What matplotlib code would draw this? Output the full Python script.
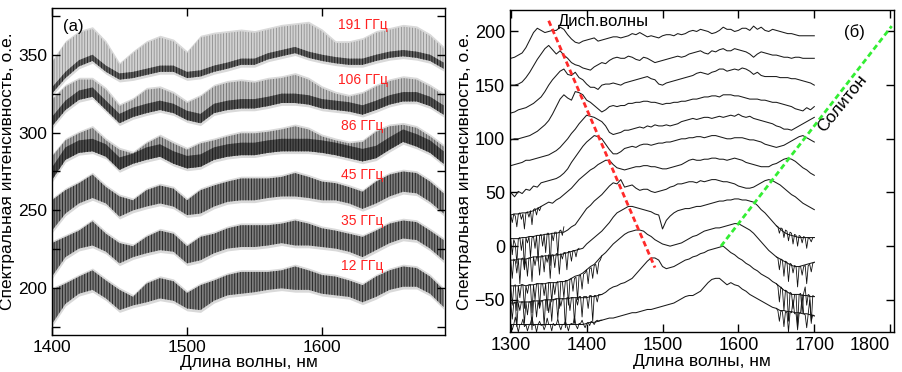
# plot.py
# Two-panel figure: (a) interference-fringed spectra at several repetition rates,
# (б) spectral evolution with dispersive-wave and soliton tracks.

import numpy as np
import matplotlib.pyplot as plt

plt.rcParams['font.family'] = ['Liberation Sans', 'DejaVu Sans']
plt.rcParams['hatch.linewidth'] = 0.6

# ---------------- panel (a) data: band envelopes every 10 nm ----------------
wl_a = np.arange(1400, 1700, 10)

rate_labels = ['191 ГГц', '106 ГГц', '86 ГГц', '45 ГГц', '35 ГГц', '12 ГГц']
label_y = [369, 334, 304, 273, 243, 214]

lo_191 = [325, 335, 342.5, 346, 339, 334, 335, 337, 339, 339, 335, 336, 339, 341, 343.5,
          343.5, 347, 349, 351, 348, 346, 344.5, 343.5, 343.5, 346, 348, 349, 348, 346, 341]
hi_191 = [345, 357.5, 364, 366.5, 357.5, 343.5, 351, 357.5, 361, 358.5, 351, 361, 363, 364, 365,
          364, 366, 368, 369, 370, 365, 357.5, 357.5, 359.5, 364, 366, 368, 367, 362, 354]
lo_106 = [304, 314.5, 321, 323, 314.5, 306, 310, 312.5, 314.5, 312.5, 308, 306, 312.5, 314.5, 315.5,
          315.5, 317, 319, 319, 318, 315.5, 314.5, 313.5, 311.5, 314.5, 318, 320, 320, 317, 311.5]
hi_106 = [321, 329.5, 334, 334, 327.5, 317, 321, 327.5, 328.5, 325, 319, 323, 329.5, 332, 333,
          332, 334, 335, 337, 334, 328.5, 325, 323, 325, 329.5, 333, 335, 334, 329.5, 324]
lo_86 = [269.5, 282.5, 287, 288, 284.5, 276, 280, 282.5, 284.5, 280, 277, 278, 282.5, 284.5, 285.5,
         285.5, 287, 288, 288, 288, 287, 285.5, 283.5, 281.5, 283.5, 289, 294, 291, 287, 280]
hi_86 = [284.5, 295, 299.5, 303, 295, 289, 286.5, 293, 297.5, 293, 289, 293, 295, 297.5, 299.5,
         299.5, 300.5, 302, 304, 302, 297.5, 295, 293, 294, 300.5, 304, 305, 303, 297.5, 291]
lo_45 = [237, 248, 254.5, 258, 254.5, 246, 250, 252.5, 254.5, 252.5, 247, 248, 252.5, 255.5, 256.5,
         256.5, 258, 259, 259, 258, 256.5, 256.5, 254.5, 251, 254.5, 259, 262, 261, 255.5, 248]
hi_45 = [256.5, 263, 267.5, 273, 265, 259, 256.5, 263, 266, 264, 256.5, 263, 266, 268.5, 270.5,
         270.5, 270.5, 271.5, 274, 271.5, 268.5, 267.5, 265, 262, 268.5, 273, 275, 274, 268.5, 261]
lo_35 = [207.5, 220, 225.5, 227.5, 223.5, 216, 220, 222.5, 224.5, 223.5, 216, 218, 222.5, 225.5, 226.5,
         226.5, 227.5, 229, 227.5, 227.5, 226.5, 225.5, 223.5, 220, 224.5, 229, 232, 231, 225.5, 218]
hi_35 = [229, 233, 237, 243, 235, 229, 227, 233, 237, 235, 227, 233, 235, 238.5, 240.5,
         240.5, 240.5, 241.5, 243.5, 241.5, 238.5, 237, 235, 233, 237, 241.5, 243.5, 242.5, 237, 231]
lo_12 = [177, 190, 196.5, 199, 193.5, 186, 189, 191, 193.5, 192, 187, 186, 192, 195.5, 196.5,
         197.5, 199, 200, 199, 199, 196.5, 195.5, 194.5, 191, 194.5, 199, 201, 201, 196.5, 188]
hi_12 = [199, 203, 207.5, 211.5, 205, 199, 194.5, 203, 206.5, 204.5, 197, 202, 205, 208.5, 210.5,
         210.5, 210.5, 211.5, 214, 211.5, 208.5, 207.5, 205, 202, 207.5, 211.5, 214, 213, 207.5, 199]

# ---------------- panel (б) data: spectra every 5 nm ----------------
wl_b = np.arange(1300, 1705, 5)

spec_1 = [175, 176, 178, 180, 185, 192, 199, 203, 201, 199,
          200, 201, 201, 204, 202, 197, 193, 190, 189, 191,
          192, 193, 194, 191, 192, 193, 194, 195, 195, 194,
          195, 196, 198, 197, 199, 197, 195, 196, 195, 194,
          196, 197, 197, 196, 198, 197, 198, 200, 201, 200,
          202, 201, 200, 198, 199, 201, 204, 202, 202, 200,
          201, 203, 203, 201, 205, 202, 204, 201, 200, 202,
          201, 200, 199, 198, 198, 197, 196, 196, 196, 196, 196]
spec_2 = [150, 150, 151, 153, 157, 162, 168, 174, 179, 184,
          187, 183, 179, 182, 178, 175, 171, 169, 168, 166,
          165, 164, 167, 169, 171, 170, 173, 175, 176, 175,
          175, 177, 176, 174, 173, 176, 175, 173, 171, 172,
          173, 174, 175, 176, 177, 176, 177, 179, 180, 181,
          182, 180, 179, 182, 181, 183, 184, 182, 182, 184,
          183, 182, 181, 179, 176, 179, 181, 180, 179, 178,
          178, 177, 176, 176, 175, 176, 176, 175, 175, 175, 175]
spec_3 = [124, 125, 127, 128, 129, 131, 133, 136, 139, 144,
          150, 155, 159, 163, 165, 160, 159, 162, 157, 155,
          151, 148, 148, 146, 150, 151, 151, 152, 151, 150,
          152, 153, 154, 155, 156, 157, 158, 156, 155, 151,
          150, 152, 153, 154, 155, 156, 157, 158, 159, 161,
          162, 161, 160, 162, 163, 165, 165, 163, 164, 165,
          164, 166, 165, 163, 160, 162, 159, 158, 158, 158,
          158, 157, 157, 157, 156, 156, 155, 154, 153, 152, 150]
spec_4 = [99, 100, 100, 101, 102, 103, 105, 107, 110, 113,
          117, 123, 130, 137, 141, 138, 136, 144, 143, 141,
          136, 134, 131, 128, 125, 127, 130, 131, 130, 131,
          131, 133, 133, 134, 134, 135, 135, 134, 134, 133,
          132, 133, 133, 134, 134, 135, 135, 136, 137, 137,
          138, 139, 139, 140, 140, 139, 141, 141, 141, 140,
          140, 139, 138, 137, 137, 137, 136, 136, 135, 134,
          134, 133, 132, 131, 130, 128, 127, 126, 129, 127, 130]
spec_5 = [75, 76, 77, 78, 80, 80, 81, 82, 83, 84,
          85, 87, 89, 92, 96, 100, 105, 109, 114, 118,
          122, 121, 120, 118, 116, 112, 106, 104, 105, 106,
          108, 108, 109, 110, 111, 110, 112, 111, 113, 112,
          112, 113, 112, 113, 114, 116, 117, 118, 119, 118,
          119, 120, 120, 119, 120, 121, 120, 121, 122, 121,
          123, 121, 120, 121, 119, 118, 117, 116, 115, 114,
          112, 111, 109, 109, 108, 110, 112, 114, 116, 118, 120]
spec_6 = [50, 46, 51, 49, 53, 52, 56, 55, 59, 60,
          61, 62, 63, 65, 68, 72, 78, 83, 88, 93,
          97, 100, 103, 102, 100, 95, 90, 86, 86, 88,
          91, 92, 93, 92, 94, 95, 95, 94, 95, 96,
          96, 97, 97, 98, 99, 100, 100, 101, 101, 102,
          102, 101, 102, 103, 103, 102, 101, 100, 100, 101,
          101, 101, 100, 99, 99, 98, 97, 95, 94, 93,
          92, 93, 94, 96, 98, 100, 102, 103, 101, 99, 97]
spec_7 = [29, 30, 30, 31, 31, 32, 33, 35, 37, 39,
          41, 40, 43, 45, 48, 51, 54, 58, 62, 65,
          68, 71, 73, 76, 78, 80, 80, 76, 73, 72,
          71, 72, 73, 74, 74, 75, 75, 74, 74, 73,
          72, 72, 73, 74, 75, 76, 78, 80, 81, 80,
          80, 81, 81, 82, 82, 81, 81, 80, 81, 82,
          81, 80, 78, 77, 76, 75, 74, 74, 74, 76,
          77, 79, 81, 82, 81, 79, 76, 73, 71, 68, 66]
spec_8 = [7, 7, 7, 8, 8, 9, 9, 10, 10, 11,
          11, 12, 12, 13, 13, 15, 18, 20, 25, 30,
          35, 38, 42, 45, 48, 52, 56, 59, 58, 62,
          55, 56, 57, 54, 52, 53, 53, 51, 50, 51,
          52, 53, 55, 56, 58, 58, 59, 60, 60, 59,
          61, 60, 61, 62, 62, 61, 60, 60, 59, 58,
          56, 55, 54, 54, 55, 57, 59, 61, 62, 61,
          59, 57, 54, 51, 48, 46, 43, 40, 38, 36, 34]
spec_9 = [-13, -13, -12, -12, -12, -11, -10, -10, -10, -9,
          -9, -9, -8, -8, -7, -6, -5, -4, -3, -2,
          2, 5, 8, 11, 14, 18, 22, 27, 31, 33,
          35, 37, 37, 36, 35, 34, 33, 32, 30, 29,
          16, 24, 28, 31, 33, 34, 35, 35, 36, 37,
          37, 38, 39, 40, 41, 42, 42, 43, 43, 44,
          44, 43, 43, 42, 41, 38, 34, 31, 27, 23,
          19, 16, 13, 11, 10, 9, 8, 8, 8, 8, 8]
spec_10 = [-37, -37, -37, -36, -37, -36, -36, -35, -35, -35,
           -34, -34, -34, -33, -33, -32, -30, -28, -27, -25,
           -22, -19, -17, -13, -9, -6, -2, 2, 5, 8,
           11, 13, 14, 15, 15, 14, 11, 9, 6, 4,
           2, 1, 0, 1, 2, 3, 5, 7, 9, 10,
           12, 14, 15, 16, 17, 17, 18, 19, 20, 21,
           21, 19, 17, 15, 12, 8, 4, 0, -4, -7,
           -10, -12, -14, -16, -18, -19, -19, -18, -17, -16, -15]
spec_11 = [-53, -53, -52, -52, -52, -52, -51, -51, -51, -50,
           -50, -50, -49, -49, -49, -49, -48, -48, -48, -48,
           -48, -47, -47, -46, -45, -43, -40, -38, -37, -35,
           -34, -32, -30, -26, -22, -18, -14, -11, -11, -13,
           -19, -21, -20, -19, -17, -15, -13, -12, -10, -9,
           -7, -6, -4, -3, -2, -1, 0, -3, -6, -8,
           -11, -13, -16, -18, -21, -23, -26, -28, -30, -33,
           -35, -38, -41, -43, -45, -45, -45, -46, -46, -47, -47]
spec_12 = [-73, -73, -73, -73, -73, -73, -73, -73, -73, -73,
           -73, -73, -73, -73, -73, -73, -73, -73, -73, -73,
           -72, -71, -71, -70, -69, -68, -67, -67, -66, -65,
           -64, -63, -62, -62, -61, -60, -59, -59, -58, -57,
           -56, -55, -54, -53, -51, -49, -47, -46, -46, -44,
           -42, -38, -34, -31, -30, -30, -33, -36, -34, -36,
           -37, -40, -42, -45, -47, -49, -51, -53, -55, -57,
           -58, -60, -60, -61, -61, -62, -62, -63, -63, -64, -65]

# noisy stretches read at 2 nm steps (short-wavelength side)
noise_wl_7 = np.arange(1300, 1342, 2)
noise_7 = [29, 22, 30, 28, 18, 30, 31, 25, 30, 16, 31, 32, 27, 33, 20, 34, 35, 29, 36, 33, 37]
noise_wl_8 = np.arange(1300, 1372, 2)
noise_8 = [7, -8, 6, 2, -16, 7, 8, -4, 7, -20, 8, 3, 9, -10, 8, 9, -2, 10, -14, 10,
           11, 0, 11, -6, 12, 12, -18, 12, 5, 13, 13, -9, 14, 15, 10, 18]
noise_wl_9 = np.arange(1300, 1392, 2)
noise_9 = [-13, -30, -12, -14, -25, -12, -35, -12, -11, -22,
           -12, -28, -11, -11, -33, -10, -18, -10, -10, -27,
           -9, -9, -24, -9, -15, -8, -30, -8, -8, -20,
           -7, -7, -26, -7, -12, -6, -6, -22, -5, -5,
           -14, -4, -4, -10, -3, -2]
noise_wl_left = np.arange(1300, 1422, 2)
noise_10 = [-37, -55, -37, -36, -60, -37, -48, -36, -36, -58,
            -37, -44, -36, -36, -62, -36, -50, -35, -35, -57,
            -35, -35, -46, -35, -60, -34, -34, -52, -34, -45,
            -34, -33, -58, -33, -33, -48, -32, -32, -55, -31,
            -30, -42, -30, -29, -50, -28, -27, -40, -26, -25,
            -22, -35, -21, -20, -30, -18, -17, -26, -15, -13, -9]
noise_11 = [-53, -68, -53, -52, -75, -53, -60, -52, -52, -72,
            -52, -64, -52, -52, -78, -51, -51, -66, -51, -58,
            -51, -51, -74, -50, -50, -62, -50, -70, -50, -50,
            -49, -68, -49, -56, -49, -49, -76, -48, -48, -60,
            -48, -48, -72, -48, -55, -47, -47, -66, -47, -47,
            -47, -58, -46, -46, -70, -46, -46, -52, -45, -45, -45]
noise_12 = [-73, -78, -73, -66, -74, -80, -73, -73, -68, -75,
            -73, -79, -74, -72, -66, -74, -73, -80, -73, -70,
            -74, -73, -78, -74, -67, -73, -73, -79, -72, -74,
            -73, -68, -74, -78, -73, -73, -70, -74, -79, -73,
            -72, -73, -66, -74, -77, -72, -72, -69, -73, -76,
            -72, -71, -74, -70, -71, -73, -70, -69, -70, -69, -69]

# noisy stretches on the long-wavelength side
noise_wl_right = np.arange(1650, 1702, 2)
noise_9r = [19, 18, 12, 17, 16, 8, 15, 14, 5, 13, 12, 2, 11, 10, 0, 10, 9, 3, 9, 8, -2, 8, 7, 4, 8, 8]
noise_10r = [-10, -11, -22, -12, -13, -28, -14, -15, -33, -16, -17, -25, -18, -19, -38, -19,
             -19, -27, -19, -18, -35, -18, -17, -24, -16, -15]
noise_11r = [-35, -37, -52, -38, -40, -60, -41, -42, -70, -43, -44, -58, -45, -45, -75, -45,
             -44, -62, -44, -38, -55, -45, -46, -72, -46, -47]
noise_12r = [-58, -60, -70, -60, -61, -75, -61, -62, -80, -62, -62, -50, -63, -63, -78, -63,
             -62, -45, -63, -64, -76, -63, -50, -70, -64, -65]

# guide lines (dispersive waves / soliton)
disp_x = [1350, 1490]
disp_y = [210, -20]
sol_x = [1577, 1802]
sol_y = [0, 205]

# ---------------- figure ----------------
fig = plt.figure(figsize=(9.02, 3.72), dpi=100)
ax_a = fig.add_axes([0.0576, 0.0995, 0.4357, 0.879])
ax_b = fig.add_axes([0.5654, 0.1075, 0.4257, 0.8656])

# band styles: (fill, hatch colour, dark core colour, core thickness)
band_styles = [
    ('#d2d2d2', '#8f8f8f', '#606060', 4),
    ('#bfbfbf', '#707070', '#545454', 6),
    ('#a8a8a8', '#505050', '#4a4a4a', 8),
    ('#7d7d7d', '#1e1e1e', None, 0),
    ('#7d7d7d', '#1e1e1e', None, 0),
    ('#7d7d7d', '#1e1e1e', None, 0),
]
bands = [(lo_191, hi_191), (lo_106, hi_106), (lo_86, hi_86),
         (lo_45, hi_45), (lo_35, hi_35), (lo_12, hi_12)]

for (lo, hi), (fill_c, hatch_c, core_c, core_w) in zip(bands, band_styles):
    lo = np.array(lo)
    hi = np.array(hi)
    ax_a.fill_between(wl_a, lo - 1.5, hi + 1.5, color='#d9d9d9', lw=0)
    ax_a.fill_between(wl_a, lo, hi, facecolor=fill_c, edgecolor=hatch_c,
                      hatch='||||||', lw=0)
    if core_c is not None:
        ax_a.fill_between(wl_a, lo, np.minimum(lo + core_w, hi), facecolor=core_c,
                          edgecolor='#1a1a1a', hatch='||||||', lw=0)

for txt, ty in zip(rate_labels, label_y):
    ax_a.text(1630, ty, txt, color='#ff2020', fontsize=10, ha='center', va='center')
ax_a.text(1408, 368, '(а)', fontsize=12, ha='left', va='center')

ax_a.set_xlim(1400, 1691)
ax_a.set_ylim(170, 380)
ax_a.set_xticks([1400, 1500, 1600])
ax_a.set_yticks([200, 250, 300, 350])
ax_a.set_yticks(np.arange(175, 380, 25), minor=True)
ax_a.tick_params(which='both', direction='in', top=True, right=True,
                 length=6, width=1, labelsize=12.5)
ax_a.set_xlabel('Длина волны, нм', fontsize=12.5, labelpad=0)
ax_a.set_ylabel('Спектральная интенсивность, о.е.', fontsize=12.5, labelpad=2)

# panel (б)
for spec in [spec_1, spec_2, spec_3, spec_4, spec_5, spec_6,
             spec_7, spec_8, spec_9, spec_10, spec_11, spec_12]:
    ax_b.plot(wl_b, spec, color='#1a1a1a', lw=0.75)

noisy = [(noise_wl_7, noise_7), (noise_wl_8, noise_8), (noise_wl_9, noise_9),
         (noise_wl_left, noise_10), (noise_wl_left, noise_11), (noise_wl_left, noise_12),
         (noise_wl_right, noise_9r), (noise_wl_right, noise_10r),
         (noise_wl_right, noise_11r), (noise_wl_right, noise_12r)]
for nx, ny in noisy:
    ax_b.plot(nx, ny, color='#111111', lw=0.6)

ax_b.plot(disp_x, disp_y, color='#ff2a2a', lw=2, dashes=(2, 1.2))
ax_b.plot(sol_x, sol_y, color='#33ee33', lw=2, dashes=(2, 1.2))

ax_b.text(1422, 209, 'Дисп.волны', fontsize=12, ha='center', va='center')
ax_b.text(1737, 133, 'Солитон', fontsize=12.5, ha='center', va='center', rotation=51)
ax_b.text(1753, 199, '(б)', fontsize=12, ha='center', va='center')

ax_b.set_xlim(1299, 1805)
ax_b.set_ylim(-80, 220)
ax_b.set_xticks([1300, 1400, 1500, 1600, 1700, 1800])
ax_b.set_yticks([-50, 0, 50, 100, 150, 200])
ax_b.tick_params(direction='in', top=True, right=True, length=6, width=1, labelsize=13)
ax_b.get_xticklabels()[-1].set_horizontalalignment('right')
ax_b.set_xlabel('Длина волны, нм', fontsize=12.5, labelpad=0)
ax_b.set_ylabel('Спектральная интенсивность, о.е.', fontsize=12.5, labelpad=2)

for ax in (ax_a, ax_b):
    for sp in ax.spines.values():
        sp.set_linewidth(1)

fig.savefig('out.png', dpi=100)
